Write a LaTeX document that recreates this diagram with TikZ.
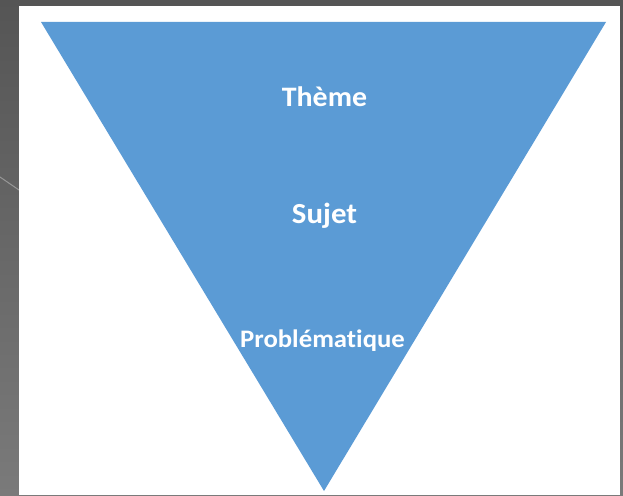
\documentclass[tikz,border=0pt]{standalone}
\usepackage{fontspec}
\setmainfont{Carlito}
\newfontfamily\lblfont[FakeStretch=1.06,Ligatures={NoCommon}]{Carlito}
\definecolor{triblue}{HTML}{5B9BD5}
\definecolor{bgtop}{HTML}{555555}
\definecolor{bgbot}{HTML}{7A7A7A}
\begin{document}
\begin{tikzpicture}[x=1pt,y=-1pt,
  lbl/.style={text=white,anchor=base,inner sep=0pt}]
\useasboundingbox (0,0) rectangle (623,495);
\shade[top color=bgtop,bottom color=bgbot] (0,0) rectangle (623,495);
\draw[white!60!gray,opacity=0.5,line width=1pt] (0,177) -- (19,190);
\fill[white] (19,6) rectangle (620,495);
\fill[triblue] (41,22) -- (606,22) -- (324,491) -- cycle;
\node[lbl,font=\lblfont\bfseries\fontsize{28.2}{32}\selectfont] (t) at (324.5,106) {Thème};
\node[lbl,font=\lblfont\bfseries\fontsize{29.1}{33}\selectfont] (s) at (324.5,223) {Sujet};
\node[lbl,font=\lblfont\bfseries\fontsize{25.2}{29}\selectfont] (p) at (322.5,347) {Problématique};
\end{tikzpicture}
\end{document}
